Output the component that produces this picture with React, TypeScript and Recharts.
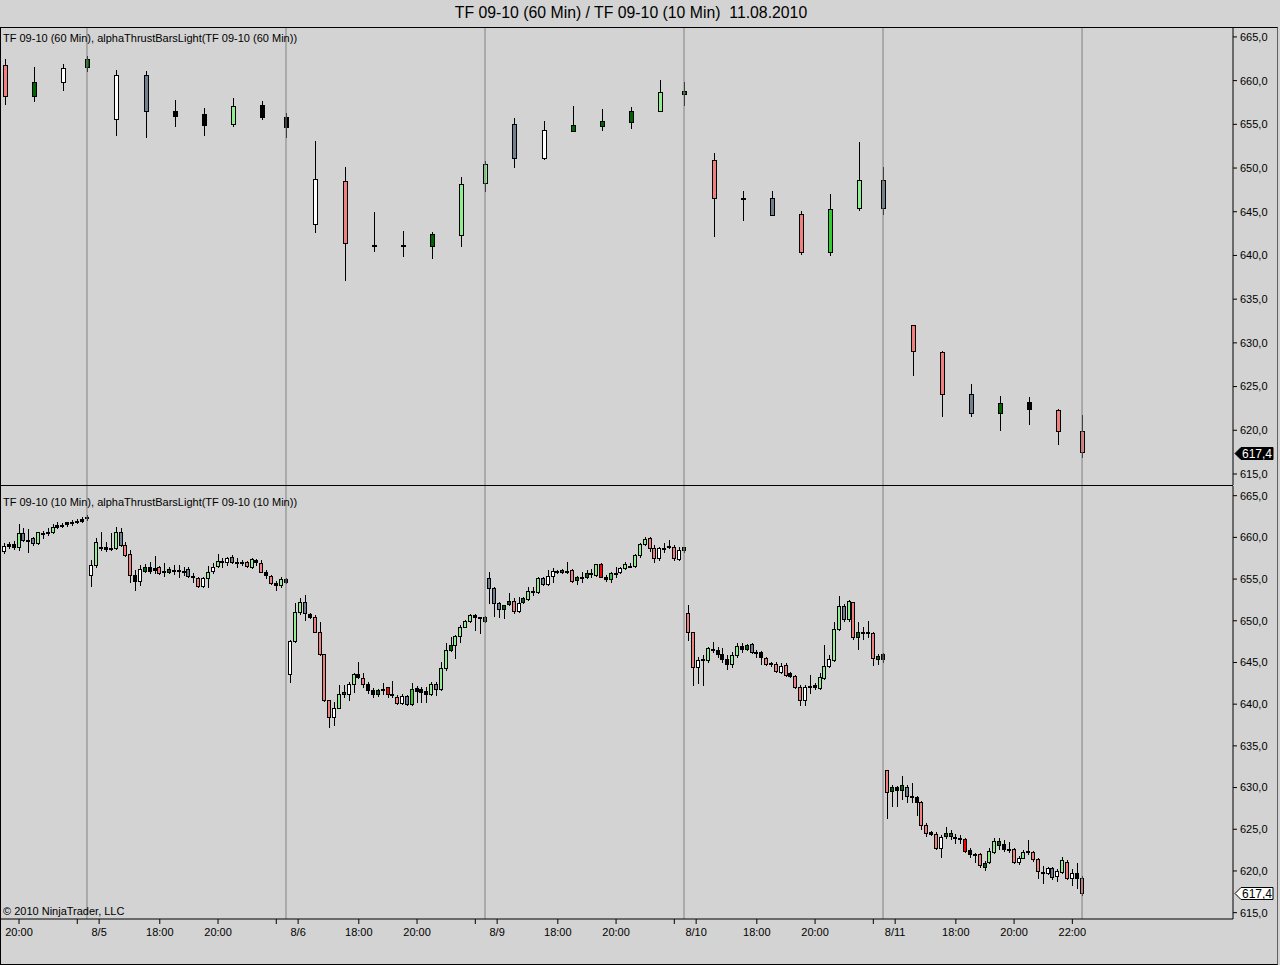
import React from 'react';
import { ComposedChart, Bar, XAxis, YAxis, ReferenceLine } from 'recharts';

// [open, high, low, close, colour code]
type Ohlc = [number, number, number, number, string];

// alphaThrustBarsLight colour codes
const palette: Record<string, string> = {
  R: '#f08080',
  G: '#90ee90',
  D: '#006400',
  W: '#ffffff',
  S: '#708090',
  K: '#000000',
  L: '#32cd32',
  X: '#ff0000',
};

// 10 min bars, one list per session (15:40 .. 22:15)
const m10_0804: Ohlc[] = [
  [658.5, 658.9, 657.9, 658.4, 'K'], [658.4, 659.3, 658.1, 659.0, 'W'], [659.2, 659.4, 658.7, 659.0, 'K'],
  [659.2, 659.6, 658.6, 658.9, 'K'], [658.9, 661.6, 658.5, 660.5, 'G'], [660.5, 661.1, 659.6, 659.7, 'S'],
  [659.7, 661.0, 658.3, 659.7, 'K'], [659.9, 660.1, 659.1, 659.3, 'S'], [659.3, 660.7, 659.2, 660.6, 'G'],
  [660.5, 660.8, 659.9, 660.5, 'K'], [660.6, 661.1, 660.3, 660.6, 'K'], [660.6, 661.6, 660.5, 661.2, 'G'],
  [661.5, 661.9, 661.1, 661.3, 'K'], [661.5, 661.7, 661.3, 661.5, 'K'], [661.8, 661.9, 661.4, 661.6, 'K'],
  [661.9, 662.1, 661.5, 661.7, 'K'], [662.0, 662.2, 661.7, 661.8, 'K'], [662.2, 662.4, 661.9, 662.0, 'K'],
  [662.5, 662.7, 662.1, 662.3, 'K'],
];

const m10_0805: Ohlc[] = [
  [655.5, 657.3, 654.2, 656.7, 'W'], [656.7, 659.9, 656.5, 659.5, 'G'], [658.8, 660.6, 658.5, 658.8, 'K'],
  [658.8, 659.5, 658.4, 658.6, 'K'], [658.7, 660.5, 658.5, 658.7, 'K'], [658.7, 661.2, 658.6, 660.6, 'G'],
  [660.6, 661.1, 659.0, 659.1, 'S'], [659.1, 659.5, 657.8, 657.9, 'R'], [658.0, 658.5, 654.7, 655.5, 'R'],
  [655.5, 656.1, 653.7, 654.8, 'K'], [654.8, 656.7, 654.3, 656.2, 'W'], [656.0, 656.8, 655.9, 656.4, 'D'],
  [656.4, 657.0, 655.7, 656.0, 'K'], [656.3, 657.8, 655.7, 656.1, 'K'], [656.4, 656.6, 655.6, 655.7, 'R'],
  [656.0, 656.9, 655.4, 656.0, 'K'], [655.9, 656.5, 655.7, 656.2, 'D'], [656.1, 656.7, 655.6, 656.1, 'K'],
  [656.1, 656.7, 655.3, 656.1, 'K'], [656.0, 656.5, 655.5, 656.0, 'K'], [656.2, 656.4, 655.3, 655.4, 'S'],
  [655.4, 655.7, 654.7, 655.4, 'K'], [655.1, 655.3, 654.0, 654.2, 'R'], [654.2, 655.2, 654.0, 655.1, 'W'],
  [655.1, 656.6, 654.1, 655.9, 'G'], [656.0, 656.9, 655.7, 656.5, 'W'], [656.6, 658.0, 656.4, 657.2, 'G'],
  [657.2, 657.5, 656.5, 657.0, 'K'], [657.0, 657.7, 656.7, 657.5, 'W'], [657.6, 657.9, 656.9, 657.1, 'S'],
  [657.1, 657.5, 656.4, 657.1, 'K'], [657.0, 657.3, 656.7, 657.0, 'K'], [657.0, 657.2, 656.5, 656.6, 'R'],
  [656.4, 657.5, 656.3, 657.4, 'G'], [657.3, 657.4, 656.7, 657.0, 'K'], [656.9, 657.3, 655.9, 655.9, 'R'],
  [655.8, 656.1, 655.1, 655.5, 'K'], [655.4, 655.5, 654.4, 654.5, 'R'], [654.5, 654.8, 653.7, 654.3, 'K'],
  [654.3, 655.3, 654.1, 655.0, 'G'], [655.0, 655.1, 654.5, 654.7, 'K'],
];

const m10_0806: Ohlc[] = [
  [643.6, 647.7, 642.6, 647.6, 'W'], [647.6, 652.1, 647.5, 651.0, 'G'], [651.0, 652.7, 650.8, 652.3, 'G'],
  [652.3, 653.1, 650.1, 650.9, 'S'], [650.8, 650.9, 650.3, 650.5, 'K'], [650.5, 650.7, 648.6, 648.7, 'R'],
  [648.6, 649.9, 645.9, 646.0, 'R'], [646.0, 646.0, 640.4, 640.5, 'R'], [640.5, 640.5, 637.3, 638.5, 'R'],
  [638.5, 640.3, 637.5, 639.6, 'W'], [639.6, 642.3, 639.5, 641.2, 'G'], [641.2, 642.3, 640.9, 641.5, 'D'],
  [641.2, 642.7, 640.5, 642.4, 'W'], [642.4, 643.7, 641.5, 643.6, 'G'], [643.6, 645.0, 643.1, 643.2, 'K'],
  [643.1, 643.7, 642.1, 642.4, 'R'], [642.4, 642.7, 641.3, 641.7, 'K'], [641.7, 641.9, 640.8, 641.2, 'K'],
  [641.2, 641.8, 641.0, 641.7, 'D'], [641.8, 642.5, 641.2, 641.8, 'K'], [641.2, 642.1, 640.9, 642.0, 'X'],
  [641.2, 642.8, 640.9, 641.2, 'K'], [640.9, 641.1, 640.0, 640.1, 'R'], [640.1, 641.2, 640.0, 641.0, 'W'],
  [641.0, 641.1, 639.9, 640.0, 'S'], [640.0, 642.5, 639.9, 641.8, 'L'], [641.9, 642.2, 640.3, 641.6, 'K'],
  [641.8, 642.1, 640.3, 641.5, 'K'], [641.6, 642.1, 640.3, 641.2, 'K'], [641.2, 642.7, 641.1, 642.4, 'G'],
  [642.4, 642.7, 641.1, 641.8, 'S'], [641.8, 645.1, 641.7, 644.3, 'G'], [644.3, 647.3, 644.1, 646.5, 'G'],
  [646.5, 648.1, 646.4, 647.1, 'D'], [647.1, 648.3, 645.5, 648.2, 'G'], [648.2, 649.5, 647.4, 649.3, 'G'],
  [649.3, 650.1, 649.2, 650.0, 'G'], [650.0, 650.8, 649.9, 650.7, 'G'], [650.7, 650.8, 648.9, 650.4, 'K'],
  [650.4, 650.5, 648.5, 650.3, 'K'], [650.0, 650.6, 649.9, 650.4, 'D'],
];

const m10_0809: Ohlc[] = [
  [655.1, 655.8, 652.1, 653.9, 'S'], [653.9, 654.1, 650.6, 652.1, 'S'], [652.1, 652.3, 650.5, 651.4, 'S'],
  [651.4, 651.9, 650.3, 651.9, 'D'], [652.0, 653.3, 651.9, 652.4, 'D'], [652.4, 652.7, 650.9, 651.2, 'R'],
  [651.2, 652.9, 651.1, 652.1, 'W'], [652.2, 652.9, 652.1, 652.7, 'D'], [652.6, 654.1, 652.5, 653.6, 'G'],
  [653.6, 654.1, 653.1, 653.6, 'K'], [653.5, 655.3, 653.3, 655.1, 'G'], [655.1, 655.3, 654.3, 654.4, 'S'],
  [654.4, 656.1, 654.3, 655.4, 'W'], [655.4, 656.3, 654.7, 656.0, 'W'], [656.0, 656.1, 655.7, 655.9, 'K'],
  [655.8, 656.2, 655.7, 656.1, 'D'], [656.0, 657.1, 655.7, 656.0, 'K'], [656.1, 656.2, 654.7, 654.8, 'R'],
  [654.9, 655.4, 654.4, 655.2, 'D'], [655.2, 655.9, 654.6, 655.2, 'K'], [655.3, 656.1, 655.1, 655.7, 'D'],
  [655.7, 656.2, 655.3, 655.7, 'K'], [655.5, 656.8, 655.4, 656.8, 'G'], [656.8, 656.9, 655.2, 655.3, 'X'],
  [655.3, 655.5, 654.8, 655.0, 'K'], [655.0, 655.9, 654.6, 655.7, 'L'], [655.7, 656.4, 655.3, 655.7, 'K'],
  [655.8, 656.5, 655.7, 656.3, 'W'], [656.3, 657.0, 656.2, 656.8, 'G'], [656.6, 656.9, 656.4, 656.6, 'K'],
  [656.6, 658.0, 656.4, 657.9, 'G'], [657.9, 659.3, 657.7, 659.2, 'G'], [659.2, 660.1, 659.1, 659.8, 'G'],
  [659.9, 660.0, 658.4, 658.7, 'R'], [658.7, 659.1, 657.0, 657.5, 'R'], [657.5, 658.9, 657.3, 658.7, 'W'],
  [658.7, 659.3, 658.3, 658.7, 'K'], [659.0, 659.7, 658.7, 658.8, 'K'], [658.8, 659.1, 657.3, 657.5, 'R'],
  [657.4, 658.8, 657.3, 658.5, 'W'], [658.5, 658.9, 658.2, 658.8, 'D'],
];

const m10_0810: Ohlc[] = [
  [650.9, 651.9, 647.7, 648.7, 'R'], [648.7, 648.7, 642.3, 644.4, 'R'], [644.4, 645.7, 642.5, 645.3, 'W'],
  [645.3, 645.9, 642.3, 645.4, 'K'], [645.3, 646.9, 645.1, 646.7, 'G'], [646.6, 647.4, 646.3, 646.6, 'K'],
  [646.5, 646.9, 645.7, 646.0, 'K'], [646.0, 646.7, 645.1, 645.4, 'K'], [645.4, 645.9, 644.2, 644.8, 'K'],
  [644.8, 646.3, 644.5, 645.9, 'G'], [645.9, 647.3, 645.7, 647.0, 'G'], [647.0, 647.3, 646.3, 646.6, 'K'],
  [646.6, 647.2, 646.5, 647.1, 'D'], [647.2, 647.3, 646.1, 646.2, 'S'], [646.3, 646.5, 645.7, 646.1, 'K'],
  [646.2, 646.4, 644.8, 645.7, 'K'], [645.5, 645.7, 644.7, 644.8, 'R'], [644.8, 645.1, 644.6, 644.9, 'K'],
  [644.8, 645.0, 643.8, 644.0, 'R'], [643.9, 644.9, 643.7, 644.6, 'W'], [644.7, 644.9, 643.4, 643.5, 'R'],
  [643.7, 643.9, 643.2, 643.4, 'K'], [643.4, 643.5, 641.9, 642.1, 'R'], [642.1, 642.3, 639.9, 640.5, 'R'],
  [640.5, 642.3, 639.9, 642.1, 'W'], [642.2, 643.5, 641.3, 642.2, 'K'], [642.3, 642.5, 641.8, 642.0, 'K'],
  [641.9, 643.7, 641.8, 643.2, 'G'], [643.1, 647.1, 643.0, 644.6, 'G'], [644.6, 645.9, 644.5, 645.4, 'W'],
  [645.3, 649.9, 645.2, 649.0, 'G'], [649.0, 653.0, 648.9, 651.8, 'G'], [651.8, 652.0, 650.0, 650.2, 'S'],
  [650.2, 652.5, 650.0, 652.4, 'G'], [652.2, 652.3, 647.8, 648.0, 'R'], [648.0, 649.9, 646.6, 648.6, 'D'],
  [648.6, 649.3, 647.8, 648.6, 'K'], [648.7, 650.0, 648.1, 648.5, 'K'], [648.5, 648.7, 644.7, 645.5, 'R'],
  [645.4, 646.0, 644.8, 645.8, 'D'], [646.0, 646.1, 645.0, 645.4, 'K'],
];

const m10_0811: Ohlc[] = [
  [632.1, 632.1, 626.4, 629.5, 'R'], [629.6, 630.3, 627.8, 630.1, 'D'], [630.1, 630.2, 627.8, 629.7, 'K'],
  [629.7, 631.4, 628.6, 630.3, 'D'], [630.1, 630.3, 628.3, 629.0, 'S'], [629.0, 630.6, 628.3, 629.0, 'K'],
  [628.9, 629.0, 626.7, 628.3, 'K'], [628.3, 628.4, 625.0, 625.5, 'R'], [625.5, 625.7, 624.2, 624.6, 'R'],
  [624.7, 624.8, 624.3, 624.4, 'K'], [624.4, 624.7, 622.6, 622.7, 'R'], [622.7, 624.3, 621.7, 624.1, 'W'],
  [624.2, 625.3, 624.0, 624.6, 'D'], [624.2, 624.9, 623.8, 624.6, 'D'], [624.1, 624.4, 623.4, 624.1, 'K'],
  [623.9, 624.3, 623.3, 623.9, 'K'], [623.8, 623.9, 622.3, 622.4, 'X'], [622.5, 622.7, 621.7, 622.0, 'K'],
  [622.0, 622.2, 621.1, 622.0, 'K'], [622.0, 622.1, 620.5, 620.7, 'R'], [620.5, 621.2, 620.1, 621.0, 'D'],
  [621.1, 622.7, 620.9, 622.4, 'G'], [622.3, 623.9, 622.2, 623.6, 'G'], [623.1, 623.9, 622.6, 623.6, 'D'],
  [623.2, 623.7, 622.4, 622.6, 'K'], [622.6, 623.5, 622.3, 622.6, 'K'], [622.6, 622.8, 621.0, 621.1, 'R'],
  [621.1, 621.8, 620.8, 621.6, 'W'], [621.6, 622.5, 621.5, 622.3, 'G'], [622.4, 623.7, 622.0, 622.4, 'K'],
  [622.3, 622.4, 621.2, 621.4, 'R'], [621.4, 621.5, 619.2, 620.0, 'R'], [619.9, 620.6, 618.6, 619.9, 'K'],
  [619.7, 620.5, 619.6, 620.3, 'W'], [620.3, 620.5, 619.0, 619.3, 'S'], [619.4, 620.2, 618.8, 620.0, 'W'],
  [619.9, 621.7, 619.7, 621.3, 'G'], [621.1, 621.3, 619.0, 619.1, 'R'], [619.1, 620.2, 618.3, 619.7, 'W'],
  [619.7, 620.9, 617.9, 619.2, 'K'], [619.2, 619.4, 617.1, 617.4, 'R'],
];

// index of the first visible 10 min bar of each session
const sessionFirstBar = [22, 41, 82, 123, 164, 205];
const m10Sessions = [m10_0804, m10_0805, m10_0806, m10_0809, m10_0810, m10_0811];

// 60 min bars, placed on the 10 min bar that closes them
const h1Index = [
  23, 29, 35, 40,
  46, 52, 58, 64, 70, 76, 81,
  87, 93, 99, 105, 111, 117, 122,
  128, 134, 140, 146, 152, 158, 163,
  169, 175, 181, 187, 193, 199, 204,
  210, 216, 222, 228, 234, 240, 245,
];
const h1Bars: Ohlc[] = [
  [661.75, 662.5, 657.35, 658.27, 'R'], [658.27, 661.55, 657.7, 659.84, 'D'], [659.8, 661.9, 658.9, 661.44, 'W'],
  [661.52, 662.78, 661.06, 662.47, 'D'],
  [655.6, 661.2, 653.8, 660.6, 'W'], [660.6, 661.06, 653.58, 656.49, 'S'], [656.52, 657.78, 654.84, 655.98, 'K'],
  [656.14, 656.86, 653.8, 654.95, 'K'], [655.07, 658.04, 654.84, 657.06, 'G'], [657.17, 657.66, 655.64, 655.87, 'K'],
  [655.8, 656.29, 653.55, 654.66, 'K'],
  [643.56, 653.05, 642.65, 648.7, 'W'], [648.55, 650.1, 637.16, 641.42, 'R'], [641.2, 644.97, 640.54, 641.1, 'K'],
  [641.15, 642.83, 639.97, 641.05, 'K'], [641.04, 642.68, 639.7, 642.42, 'D'], [642.3, 648.97, 641.04, 648.17, 'G'],
  [648.25, 650.83, 647.37, 650.46, 'G'],
  [655.0, 655.72, 650.15, 651.1, 'S'], [651.18, 655.35, 651.06, 654.35, 'W'], [654.27, 657.09, 654.2, 654.88, 'D'],
  [654.84, 656.75, 654.38, 655.35, 'D'], [655.3, 656.98, 654.61, 656.49, 'D'], [656.49, 660.07, 656.49, 658.66, 'G'],
  [658.5, 659.8, 657.2, 658.8, 'D'],
  [650.88, 651.68, 642.26, 646.53, 'R'], [646.55, 647.37, 644.09, 646.45, 'K'], [646.53, 647.37, 644.59, 644.66, 'S'],
  [644.7, 645.08, 640.13, 640.36, 'R'], [640.36, 647.06, 640.05, 645.28, 'L'], [645.4, 652.97, 645.2, 648.6, 'G'],
  [648.6, 650.15, 644.7, 645.4, 'S'],
  [632.04, 632.1, 626.32, 629.03, 'R'], [628.95, 629.03, 621.65, 624.12, 'R'], [624.12, 625.3, 621.68, 621.95, 'S'],
  [621.95, 623.92, 620.03, 623.09, 'D'], [623.24, 623.84, 620.7, 622.4, 'K'], [622.32, 622.4, 618.43, 619.95, 'R'],
  [619.95, 621.75, 616.98, 617.48, 'R'],
];

// last bar of every session (session break lines)
const sessionEnds = [40, 81, 122, 163, 204, 245];

const priceTicks = [615, 620, 625, 630, 635, 640, 645, 650, 655, 660, 665];
const xTicks = [26, 38, 42.5, 55, 67, 79, 83.5, 96, 108, 120, 124.5, 137, 149, 161, 165.5, 178, 190, 202, 206.5, 219, 231, 243];
const xTickLabels = [
  '20:00', '', '8/5', '18:00', '20:00', '', '8/6', '18:00', '20:00', '', '8/9', '18:00', '20:00', '',
  '8/10', '18:00', '20:00', '', '8/11', '18:00', '20:00', '22:00',
];
const lastPrice = 617.4;

const toRow = (b: Ohlc, i: number) => ({ i, o: b[0], h: b[1], l: b[2], c: b[3], col: b[4] });

const m10Data = m10Sessions.flatMap((bars, s) => bars.map((b, j) => toRow(b, sessionFirstBar[s] + j)));
const h1Data = h1Bars.map((b, k) => toRow(b, h1Index[k]));

const FONT = '"Liberation Sans", Arial, sans-serif';
const BG = '#d3d3d3';
const X_DOMAIN: [number, number] = [22.08, 276.1];
const fmtPrice = (v: number) => v.toFixed(1).replace('.', ',');
const labelOf = new Map(xTicks.map((t, k) => [t, xTickLabels[k]]));

const makeCandle = (bodyW: number) => (props: any) => {
  const { x, y, width, height, payload } = props;
  if (!payload || x == null || y == null) return <g />;
  const top = Math.min(y, y + height);
  const span = Math.abs(height);
  const { o, h, l, c, col } = payload;
  const py = (v: number) => top + (h === l ? 0 : ((h - v) / (h - l)) * span);
  const cx = Math.round(x + width / 2) + 0.5;
  const y1 = Math.round(py(Math.max(o, c))) + 0.5;
  const y2 = Math.round(py(Math.min(o, c))) + 0.5;
  return (
    <g>
      <line x1={cx} x2={cx} y1={Math.round(top)} y2={Math.round(top + span) + 1} stroke="#000" strokeWidth={1} />
      <rect
        x={cx - bodyW / 2 - 0.5}
        y={y1}
        width={bodyW}
        height={Math.max(y2 - y1, 1)}
        fill={palette[col]}
        stroke="#000"
        strokeWidth={1}
        shapeRendering="crispEdges"
      />
    </g>
  );
};

const priceTag = (dark: boolean) => (props: any) => {
  const vb = props.viewBox;
  if (!vb) return null;
  const x = vb.x + vb.width + 2;
  const y = Math.round(vb.y) + 0.5;
  return (
    <g>
      <polygon
        points={`${x},${y} ${x + 6},${y - 6} ${x + 38},${y - 6} ${x + 38},${y + 6} ${x + 6},${y + 6}`}
        fill={dark ? '#000' : '#fff'}
        stroke="#000"
        strokeWidth={1}
      />
      <text x={x + 7} y={y + 4.5} fontSize={12} fontFamily={FONT} fill={dark ? '#fff' : '#000'}>
        {fmtPrice(lastPrice)}
      </text>
    </g>
  );
};

const yAxisProps = {
  yAxisId: 'p',
  orientation: 'right' as const,
  width: 47,
  ticks: priceTicks,
  interval: 0 as const,
  allowDataOverflow: true,
  tickFormatter: fmtPrice,
  axisLine: { stroke: '#000' },
  tickLine: { stroke: '#000' },
  tickSize: 4,
  tickMargin: 3,
  tick: { fill: '#000', fontSize: 11, fontFamily: FONT },
};

const sessionLines = (chart: string) =>
  sessionEnds.map((e) => (
    <ReferenceLine key={`${chart}-${e}`} x={e} yAxisId="p" stroke="#808080" strokeWidth={1} />
  ));

const textStyle: React.CSSProperties = {
  position: 'absolute',
  fontFamily: FONT,
  fontSize: 11,
  color: '#000',
  whiteSpace: 'nowrap',
  lineHeight: '13px',
};

export default function App() {
  return (
    <div
      style={{
        position: 'absolute',
        left: 0,
        top: 0,
        width: 1280,
        height: 965,
        background: BG,
        overflow: 'hidden',
        fontFamily: FONT,
      }}
    >
      <div style={{ ...textStyle, fontSize: 15.8, lineHeight: '18px', top: 4, left: 0, width: 1262, textAlign: 'center' }}>
        TF 09-10 (60 Min) / TF 09-10 (10 Min)&nbsp;&nbsp;11.08.2010
      </div>

      {/* frame */}
      <div style={{ position: 'absolute', left: 0, top: 27, width: 1276, height: 936, border: '1px solid #000', borderRight: '1px solid #606060' }} />
      <div style={{ position: 'absolute', left: 0, top: 485, width: 1233, height: 1, background: '#000' }} />

      <div style={{ position: 'absolute', left: 0, top: 28 }}>
        <ComposedChart width={1280} height={457} data={h1Data} margin={{ top: 0, right: 0, bottom: 0, left: 0 }}>
          <XAxis dataKey="i" type="number" domain={X_DOMAIN} allowDataOverflow hide />
          <YAxis {...yAxisProps} domain={[613.74, 666.02]} />
          {sessionLines('h1')}
          <Bar
            yAxisId="p"
            dataKey={(d: any) => [d.l, d.h]}
            barSize={5}
            shape={makeCandle(4)}
            isAnimationActive={false}
          />
          <ReferenceLine yAxisId="p" y={lastPrice} stroke="none" label={priceTag(true)} />
        </ComposedChart>
      </div>

      <div style={{ position: 'absolute', left: 0, top: 486 }}>
        <ComposedChart width={1280} height={463} data={m10Data} margin={{ top: 0, right: 0, bottom: 0, left: 0 }}>
          <XAxis
            dataKey="i"
            type="number"
            domain={X_DOMAIN}
            allowDataOverflow
            ticks={xTicks}
            interval={0}
            height={30}
            tickFormatter={(v: number) => labelOf.get(v) ?? ''}
            axisLine={{ stroke: '#000' }}
            tickLine={{ stroke: '#000' }}
            tickSize={5}
            tickMargin={4}
            tick={{ fill: '#000', fontSize: 11, fontFamily: FONT }}
          />
          <YAxis {...yAxisProps} domain={[614.24, 666.16]} />
          {sessionLines('m10')}
          <Bar
            yAxisId="p"
            dataKey={(d: any) => [d.l, d.h]}
            barSize={4}
            shape={makeCandle(3)}
            isAnimationActive={false}
          />
          <ReferenceLine yAxisId="p" y={lastPrice} stroke="none" label={priceTag(false)} />
        </ComposedChart>
      </div>

      <div style={{ ...textStyle, left: 3, top: 32 }}>TF 09-10 (60 Min), alphaThrustBarsLight(TF 09-10 (60 Min))</div>
      <div style={{ ...textStyle, left: 3, top: 496 }}>TF 09-10 (10 Min), alphaThrustBarsLight(TF 09-10 (10 Min))</div>
      <div style={{ ...textStyle, left: 3, top: 905 }}>© 2010 NinjaTrader, LLC</div>
    </div>
  );
}
